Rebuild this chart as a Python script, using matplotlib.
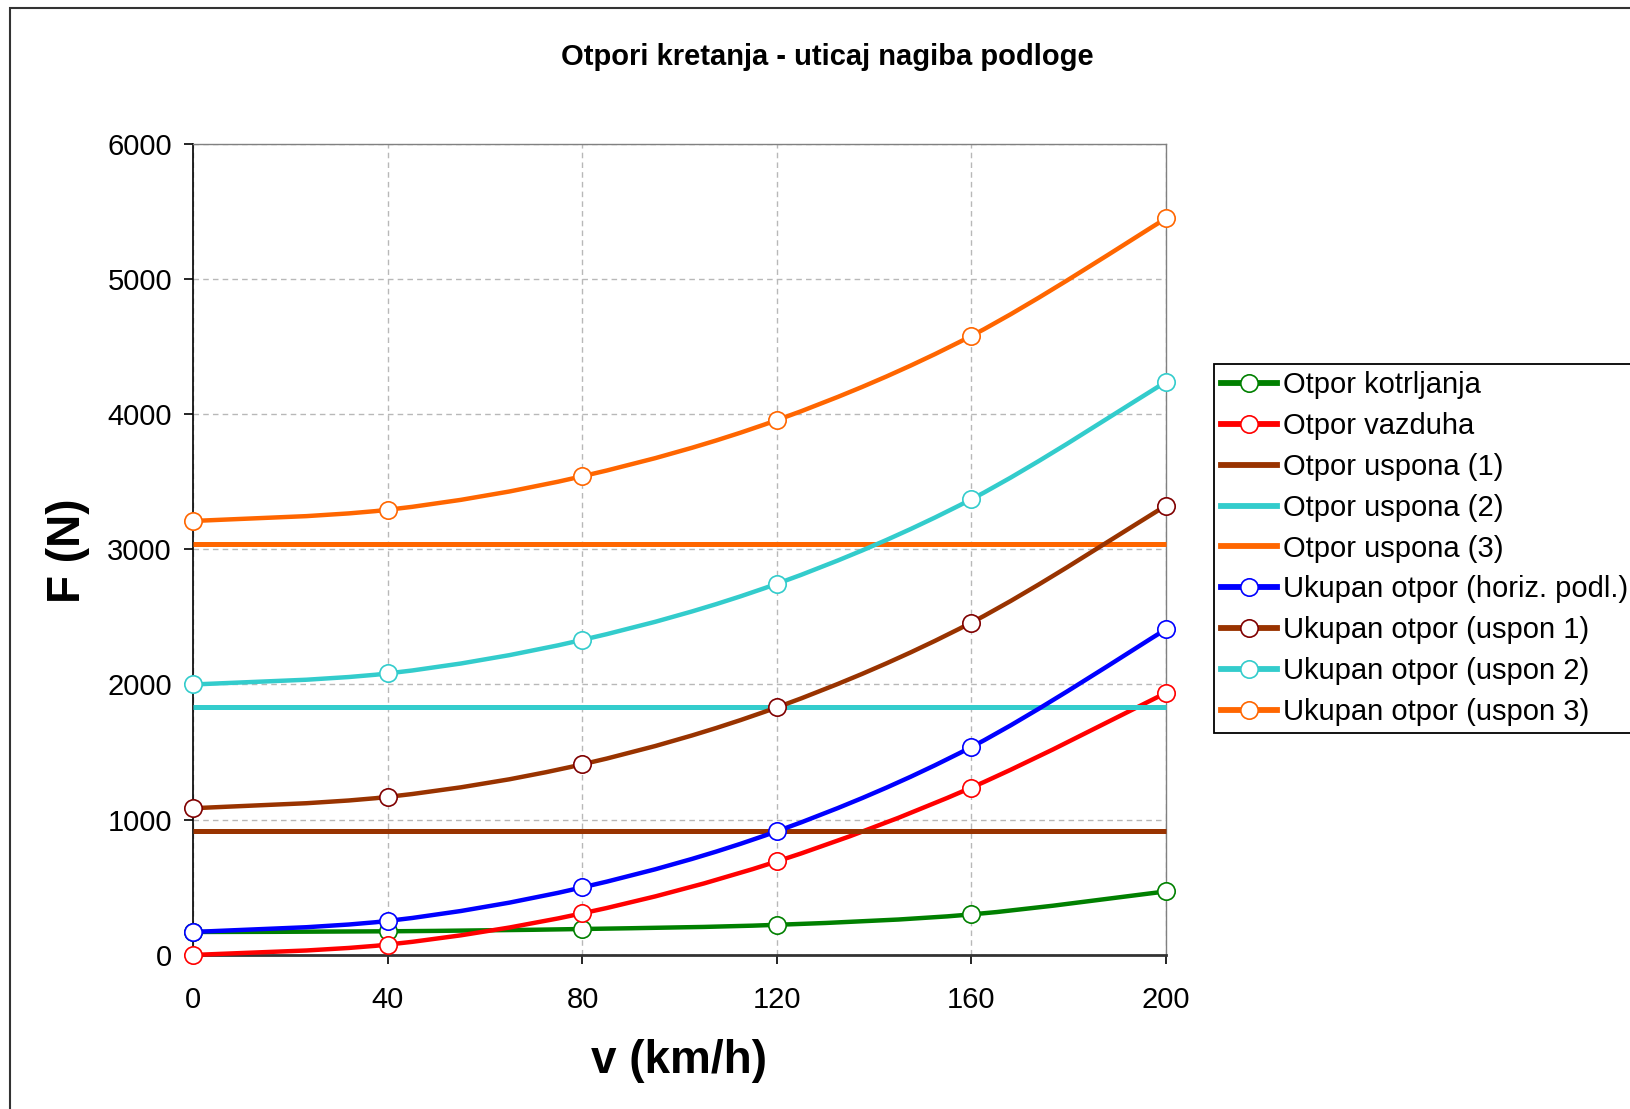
import numpy as np
import matplotlib
matplotlib.use('Agg')
import matplotlib.pyplot as plt
from matplotlib.path import Path
from matplotlib.patches import PathPatch, Rectangle
from matplotlib.lines import Line2D

plt.rcParams['font.family'] = ['Liberation Sans', 'DejaVu Sans']

# brzina kretanja (km/h)
v = [0, 40, 80, 120, 160, 200]

# otpori kretanja (N)
otpor_kotrljanja = [170, 175, 192, 223, 300, 470]
otpor_vazduha = [0, 77, 308, 692, 1238, 1938]
otpor_uspona_1 = 915
otpor_uspona_2 = 1830
otpor_uspona_3 = 3040
ukupan_horiz = [170, 252, 500, 915, 1538, 2408]
ukupan_uspon_1 = [1085, 1169, 1410, 1831, 2458, 3323]
ukupan_uspon_2 = [2000, 2082, 2330, 2745, 3370, 4238]
ukupan_uspon_3 = [3209, 3292, 3540, 3955, 4578, 5446]

x_ticks = [0, 40, 80, 120, 160, 200]
y_ticks = [0, 1000, 2000, 3000, 4000, 5000, 6000]


def smooth_path(x, y):
    '''
    Bezier kriva kroz tacke (kao "smoothed line" u Excelu)
    '''
    pts = np.column_stack([x, y]).astype(float)
    n = len(pts)
    verts = [pts[0]]
    codes = [Path.MOVETO]
    for i in range(n - 1):
        p0 = pts[max(i - 1, 0)]
        p1 = pts[i]
        p2 = pts[i + 1]
        p3 = pts[min(i + 2, n - 1)]
        verts += [p1 + (p2 - p0) / 6.0, p2 - (p3 - p1) / 6.0, p2]
        codes += [Path.CURVE4] * 3
    return Path(verts, codes)


fig = plt.figure(figsize=(16.31, 11.09), dpi=100)
ax = fig.add_axes([0.1186, 0.1389, 0.5963, 0.7317])

# okvir oko celog dijagrama
fig.patches.append(Rectangle((0.0064, -0.1), 1.2, 0.9927 + 0.1, transform=fig.transFigure,
                             fill=False, edgecolor='#333333', lw=1.5, zorder=0))

# (naziv, podaci, boja linije, boja markera)
krive = [
    ('Otpor kotrljanja', otpor_kotrljanja, '#008000', '#008000'),
    ('Otpor vazduha', otpor_vazduha, '#FF0000', '#FF0000'),
    ('Otpor uspona (1)', otpor_uspona_1, '#993300', None),
    ('Otpor uspona (2)', otpor_uspona_2, '#33CCCC', None),
    ('Otpor uspona (3)', otpor_uspona_3, '#FF6600', None),
    ('Ukupan otpor (horiz. podl.)', ukupan_horiz, '#0000FF', '#0000FF'),
    ('Ukupan otpor (uspon 1)', ukupan_uspon_1, '#993300', '#800000'),
    ('Ukupan otpor (uspon 2)', ukupan_uspon_2, '#33CCCC', '#33CCCC'),
    ('Ukupan otpor (uspon 3)', ukupan_uspon_3, '#FF6600', '#FF6600'),
]

handles = []
z = 3
for naziv, podaci, boja, marker_boja in krive:
    if marker_boja is None:
        # konstantan otpor uspona
        ax.plot([v[0], v[-1]], [podaci, podaci], color=boja, lw=3.6,
                solid_capstyle='butt', zorder=z, clip_on=False)
        handles.append(Line2D([], [], color=boja, lw=4.2))
    else:
        ax.add_patch(PathPatch(smooth_path(v, podaci), fill=False, edgecolor=boja,
                               lw=3.2, zorder=z, clip_on=False))
        ax.plot(v, podaci, ls='none', marker='o', ms=12.5, mfc='white',
                mec=marker_boja, mew=1.2, zorder=z + 0.5, clip_on=False)
        handles.append(Line2D([], [], color=boja, lw=4.2, marker='o', ms=12.5,
                              mfc='white', mec=marker_boja, mew=1.2))
    z += 1

ax.set_xlim(0, 200)
ax.set_ylim(0, 6000)
ax.set_xticks(x_ticks)
ax.set_yticks(y_ticks)

ax.grid(True, color='#b8b8b8', linestyle=(0, (4, 3)), lw=1.0, zorder=1)
ax.set_axisbelow(True)

for s in ['top', 'right']:
    ax.spines[s].set_color('#808080')
    ax.spines[s].set_linewidth(1.0)
ax.spines['left'].set_color('black')
ax.spines['left'].set_linewidth(1.2)
ax.spines['bottom'].set_color('#333333')
ax.spines['bottom'].set_linewidth(2.0)

ax.tick_params(axis='both', direction='out', length=6.5, width=1.2, labelsize=21)
ax.tick_params(axis='x', pad=16)
ax.tick_params(axis='y', pad=9)

fig.text(827 / 1631, 1 - 57 / 1109, 'Otpori kretanja - uticaj nagiba podloge',
         ha='center', va='center', fontsize=21, fontweight='bold')
fig.text(679 / 1631, 1 - 1061 / 1109, 'v (km/h)', ha='center', va='center',
         fontsize=33, fontweight='bold')
fig.text(67.6 / 1631, 1 - 551 / 1109, 'F (N)', ha='center', va='center',
         fontsize=33, fontweight='bold', rotation=90)

leg = fig.legend(handles, [k[0] for k in krive], loc='upper left',
                 bbox_to_anchor=(1214 / 1631, 1 - 364 / 1109), borderaxespad=0,
                 fontsize=21, fancybox=False, framealpha=1, edgecolor='black',
                 handlelength=1.9, handletextpad=0.2, borderpad=0.25, labelspacing=0.44)
leg.get_frame().set_linewidth(1.3)

fig.savefig('out.png', dpi=100)
